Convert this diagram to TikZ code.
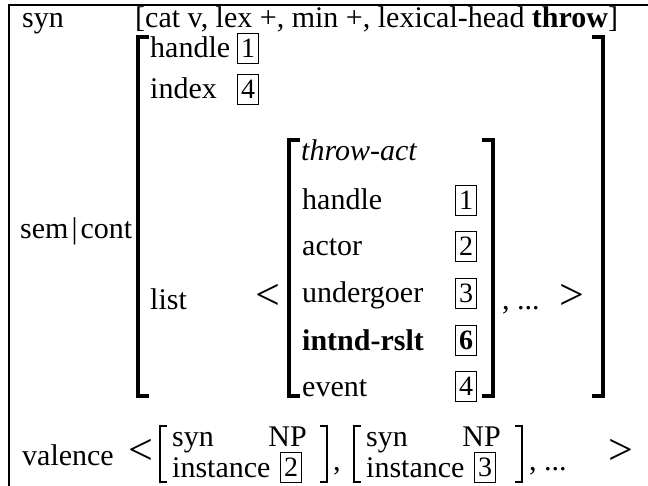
\documentclass[tikz,border=0pt]{standalone}
\usepackage{fontspec}
\setmainfont{Liberation Serif}
\usetikzlibrary{positioning}
\pgfdeclarelayer{nodelayer}
\pgfdeclarelayer{edgelayer}
\pgfsetlayers{nodelayer,edgelayer,main}
\tikzset{
    none/.style = {inner sep=0pt},
    txt/.style = {anchor=base west, inner sep=0pt, font=\fontsize{30}{32}\selectfont},
    tagbox/.style = {draw, line width=0.8pt, minimum width=21pt, minimum height=30pt, inner sep=0pt, font=\fontsize{28}{30}\selectfont},
    angle/.style = {inner sep=0pt, font=\fontsize{44}{44}\selectfont},
    bigbracket/.style = {line width=3.5pt},
    smallbracket/.style = {line width=1.1pt},
    frame/.style = {line width=1.5pt}
}

\begin{document}
\begin{tikzpicture}[x=1pt, y=-1pt]
    \useasboundingbox (0, 0) rectangle (648, 486);
    \begin{pgfonlayer}{nodelayer}
        % frame
        \node [style=none] (0) at (9, 5) {};
        \node [style=none] (1) at (648, 5) {};
        \node [style=none] (2) at (9, 486) {};
        % syn
        \node [style=txt] (3) at (22, 28) {syn};
        \node [style=txt] (4) at (135, 28) {[cat v, lex +, min +, lexical-head \textbf{throw}]};
        % sem|cont
        \node [style=txt] (5) at (20, 239) {sem\kern3pt|\kern3pt cont};
        \node [style=txt] (6) at (150, 58) {handle};
        \node [style=tagbox] (7) at (248, 48) {1};
        \node [style=txt] (8) at (150, 99) {index};
        \node [style=tagbox] (9) at (248, 89) {4};
        \node [style=txt] (10) at (150, 310) {list};
        \node [style=angle] (11) at (268, 297) {<};
        % throw-act
        \node [style=txt] (12) at (301, 161) {\textit{throw-act}};
        \node [style=txt] (13) at (302, 210) {handle};
        \node [style=tagbox] (14) at (466, 200) {1};
        \node [style=txt] (15) at (302, 256) {actor};
        \node [style=tagbox] (16) at (466, 246) {2};
        \node [style=txt] (17) at (302, 303) {undergoer};
        \node [style=tagbox] (18) at (466, 293) {3};
        \node [style=txt] (19) at (302, 350) {\textbf{intnd-rslt}};
        \node [style=tagbox] (20) at (466, 340) {\textbf{6}};
        \node [style=txt] (21) at (302, 396) {event};
        \node [style=tagbox] (22) at (466, 386) {4};
        \node [style=txt] (23) at (502, 310) {, ...};
        \node [style=angle] (24) at (572, 297) {>};
        % valence
        \node [style=txt] (25) at (22, 465) {valence};
        \node [style=angle] (26) at (141, 452) {<};
        \node [style=txt] (27) at (172, 446) {syn};
        \node [style=txt, anchor=base east] (28) at (307, 446) {NP};
        \node [style=txt] (29) at (172, 477) {instance};
        \node [style=tagbox] (30) at (291, 467) {2};
        \node [style=txt] (31) at (333, 470) {,};
        \node [style=txt] (32) at (366, 446) {syn};
        \node [style=txt, anchor=base east] (33) at (501, 446) {NP};
        \node [style=txt] (34) at (366, 477) {instance};
        \node [style=tagbox] (35) at (485, 467) {3};
        \node [style=txt] (36) at (529, 470) {, ...};
        \node [style=angle] (37) at (621, 452) {>};
        % bracket corners
        \node [style=none] (40) at (149, 37) {};
        \node [style=none] (41) at (138, 37) {};
        \node [style=none] (42) at (138, 396) {};
        \node [style=none] (43) at (149, 396) {};
        \node [style=none] (44) at (592, 37) {};
        \node [style=none] (45) at (603, 37) {};
        \node [style=none] (46) at (603, 396) {};
        \node [style=none] (47) at (592, 396) {};
        \node [style=none] (48) at (300, 140) {};
        \node [style=none] (49) at (289, 140) {};
        \node [style=none] (50) at (289, 396) {};
        \node [style=none] (51) at (300, 396) {};
        \node [style=none] (52) at (482, 140) {};
        \node [style=none] (53) at (493, 140) {};
        \node [style=none] (54) at (493, 396) {};
        \node [style=none] (55) at (482, 396) {};
        \node [style=none] (56) at (167, 426) {};
        \node [style=none] (57) at (160, 426) {};
        \node [style=none] (58) at (160, 482) {};
        \node [style=none] (59) at (167, 482) {};
        \node [style=none] (60) at (320, 426) {};
        \node [style=none] (61) at (327, 426) {};
        \node [style=none] (62) at (327, 482) {};
        \node [style=none] (63) at (320, 482) {};
        \node [style=none] (64) at (361, 426) {};
        \node [style=none] (65) at (354, 426) {};
        \node [style=none] (66) at (354, 482) {};
        \node [style=none] (67) at (361, 482) {};
        \node [style=none] (68) at (515, 426) {};
        \node [style=none] (69) at (522, 426) {};
        \node [style=none] (70) at (522, 482) {};
        \node [style=none] (71) at (515, 482) {};
    \end{pgfonlayer}
    \begin{pgfonlayer}{edgelayer}
        \draw [style=frame] (1.center) to (0.center) to (2.center);
        \draw [style=bigbracket] (40.center) to (41.center) to (42.center) to (43.center);
        \draw [style=bigbracket] (44.center) to (45.center) to (46.center) to (47.center);
        \draw [style=bigbracket] (48.center) to (49.center) to (50.center) to (51.center);
        \draw [style=bigbracket] (52.center) to (53.center) to (54.center) to (55.center);
        \draw [style=smallbracket] (56.center) to (57.center) to (58.center) to (59.center);
        \draw [style=smallbracket] (60.center) to (61.center) to (62.center) to (63.center);
        \draw [style=smallbracket] (64.center) to (65.center) to (66.center) to (67.center);
        \draw [style=smallbracket] (68.center) to (69.center) to (70.center) to (71.center);
    \end{pgfonlayer}
\end{tikzpicture}
\end{document}
